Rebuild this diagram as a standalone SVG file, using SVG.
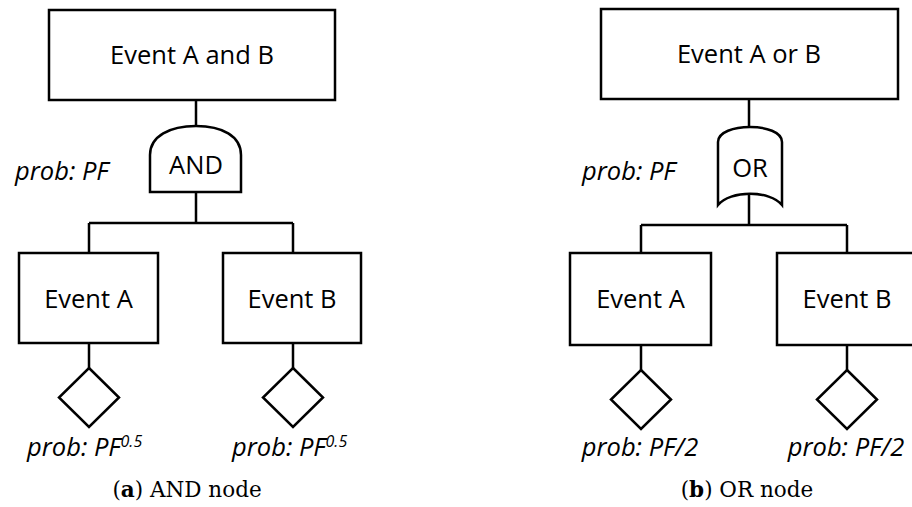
<svg xmlns="http://www.w3.org/2000/svg" width="912" height="507" viewBox="0 0 912 507">
<style>
.box{fill:#fff;stroke:#000;stroke-width:2.5}
.ln{fill:none;stroke:#000;stroke-width:2.5}
.t{font-family:"Open Sans","Liberation Sans",sans-serif;font-size:25.5px;fill:#000;text-anchor:middle}
.p{font-family:"Open Sans","Liberation Sans",sans-serif;font-size:25.5px;font-style:italic;fill:#000}
.sup{font-size:16px}
.cap{font-family:"DejaVu Serif","Liberation Serif",serif;font-size:21.5px;fill:#000;text-anchor:middle}
</style>
<rect width="912" height="507" fill="#fff"/>
<g id="connectors">
<path class="ln" d="M196,100 V126 M196,192 V223 M89,223 H293 M89,223 V253 M293,223 V253 M89,343 V368 M293,343 V368"/>
<path class="ln" d="M749,99 V127 M749,195 V225 M641,225 H847 M641,225 V253 M847,225 V253 M641,345 V370 M847,345 V370"/>
</g>
<g id="and-top"><rect class="box" x="49" y="10" width="286" height="90"/><text class="t" x="192" y="64">Event A and B</text></g>
<g id="and-gate"><path class="box" d="M150,192 V155 C150,136 170,126 196,126 C222,126 241,136 241,155 V192 Z"/><text class="t" x="196" y="174">AND</text></g>
<text class="p" x="15" y="180">prob: PF</text>
<g id="and-a"><rect class="box" x="19" y="253" width="139" height="90"/><text class="t" x="88.5" y="308">Event A</text></g>
<g id="and-b"><rect class="box" x="223" y="253" width="138" height="90"/><text class="t" x="292" y="308">Event B</text></g>
<g id="and-da"><path class="box" d="M89,368 L119,397.5 L89,427 L59,397.5 Z"/><text class="p" x="27" y="456">prob: PF<tspan class="sup" dy="-9">0.5</tspan></text></g>
<g id="and-db"><path class="box" d="M293,368 L323,397.5 L293,427 L263,397.5 Z"/><text class="p" x="232" y="456">prob: PF<tspan class="sup" dy="-9">0.5</tspan></text></g>
<text class="cap" x="187" y="497">(<tspan font-weight="bold">a</tspan>) AND node</text>

<g id="or-top"><rect class="box" x="601" y="9" width="297" height="90"/><text class="t" x="749" y="63">Event A or B</text></g>
<g id="or-gate"><path class="box" d="M718,205 V142 C718,132 734,127 750,127 C766,127 782,132 782,142 V205 C770,190 730,190 718,205 Z"/><text class="t" x="750" y="177">OR</text></g>
<text class="p" x="582" y="180">prob: PF</text>
<g id="or-a"><rect class="box" x="570" y="253" width="141" height="92"/><text class="t" x="640.5" y="308">Event A</text></g>
<g id="or-b"><rect class="box" x="777" y="253" width="142" height="92"/><text class="t" x="847" y="308">Event B</text></g>
<g id="or-da"><path class="box" d="M641,370 L671,399.5 L641,429 L611,399.5 Z"/><text class="p" x="640" y="456" text-anchor="middle">prob: PF/2</text></g>
<g id="or-db"><path class="box" d="M847,370 L877,399.5 L847,429 L817,399.5 Z"/><text class="p" x="846" y="456" text-anchor="middle">prob: PF/2</text></g>
<text class="cap" x="747" y="497">(<tspan font-weight="bold">b</tspan>) OR node</text>
</svg>
